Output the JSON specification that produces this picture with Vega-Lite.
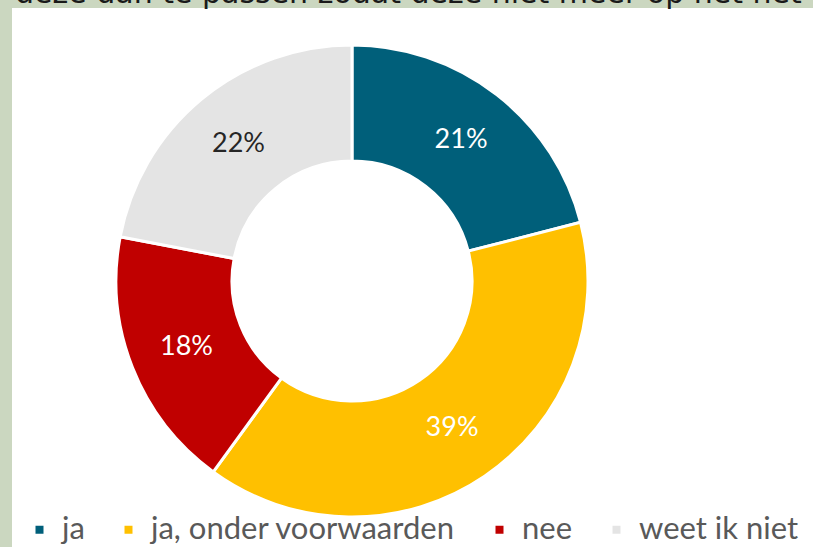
{
  "$schema": "https://vega.github.io/schema/vega-lite/v6.json",
  "background": "#CBD7C0",
  "padding": {"left": 12, "top": -21, "right": 0, "bottom": 0},
  "title": {
    "text": "deze dan te passen zodat deze niet meer op het net komen?",
    "anchor": "start",
    "font": "DejaVu Sans",
    "fontSize": 30,
    "fontWeight": "normal",
    "color": "#1a1a1a",
    "offset": -1,
    "dx": 3
  },
  "config": {
    "view": {"fill": "white", "stroke": null},
    "concat": {"spacing": 0}
  },
  "spacing": 0,
  "hconcat": [
    {
      "width": 680,
      "height": 546,
      "view": {"fill": "white", "stroke": null},
      "data": {
        "values": [
          {"cat": "ja", "pct": 21, "label": "21%", "order": 1},
          {"cat": "ja, onder voorwaarden", "pct": 39, "label": "39%", "order": 2},
          {"cat": "nee", "pct": 18, "label": "18%", "order": 3},
          {"cat": "weet ik niet", "pct": 22, "label": "22%", "order": 4}
        ]
      },
      "encoding": {
        "theta": {"field": "pct", "type": "quantitative", "stack": true},
        "order": {"field": "order", "type": "quantitative"}
      },
      "layer": [
        {
          "mark": {"type": "arc", "radius": 236, "radius2": 120, "stroke": "white", "strokeWidth": 3},
          "encoding": {
            "color": {
              "field": "cat",
              "type": "nominal",
              "scale": {
                "domain": ["ja", "ja, onder voorwaarden", "nee", "weet ik niet"],
                "range": ["#005F7A", "#FFC000", "#C00000", "#E4E4E4"]
              },
              "legend": {
                "title": null,
                "orient": "none",
                "direction": "horizontal",
                "legendX": 12,
                "legendY": 506,
                "symbolType": "square",
                "symbolSize": 64,
                "symbolStrokeWidth": 0,
                "labelFont": "Lato",
                "labelFontSize": 31,
                "labelColor": "#595959",
                "labelOffset": 7,
                "columnPadding": 28,
                "labelLimit": 500
              }
            }
          }
        },
        {
          "mark": {"type": "text", "radius": 178, "font": "Lato", "fontSize": 27},
          "encoding": {
            "text": {"field": "label", "type": "nominal"},
            "color": {
              "condition": {"test": "datum.cat === 'weet ik niet'", "value": "#262626"},
              "value": "white"
            }
          }
        }
      ]
    },
    {
      "width": 121,
      "height": 546,
      "view": {"fill": "white", "stroke": null},
      "data": {"values": []},
      "mark": "point"
    }
  ]
}
